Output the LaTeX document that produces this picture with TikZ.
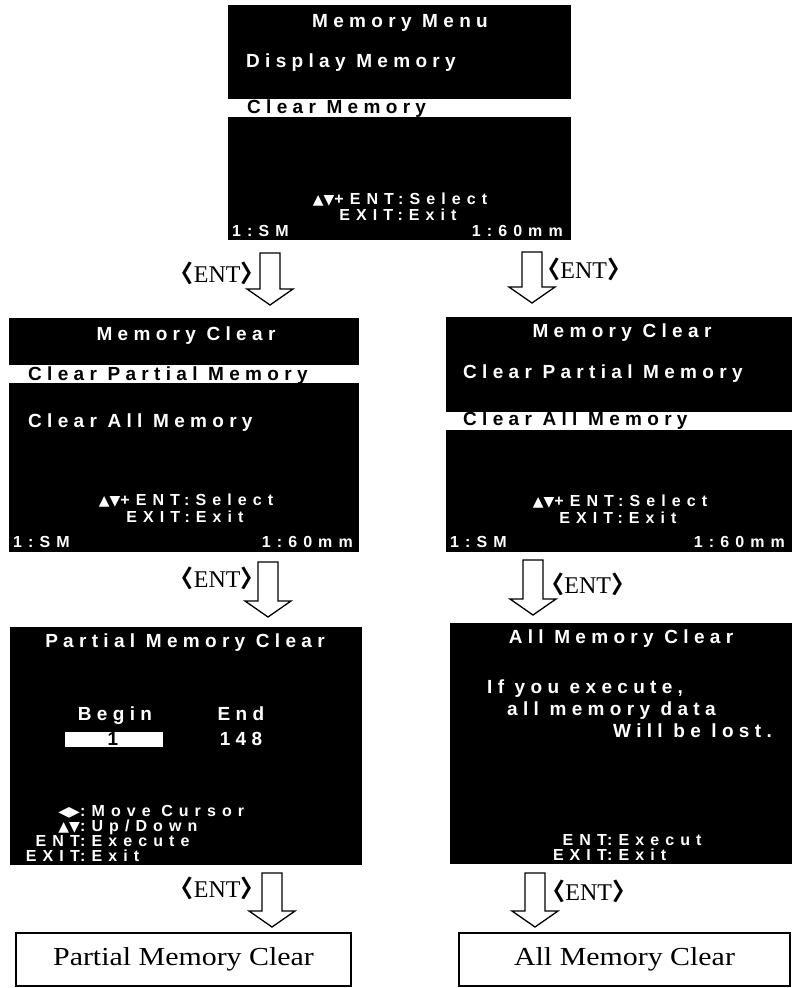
\documentclass[tikz,border=0pt]{standalone}
\usepackage{fontspec}
\setmainfont{Liberation Serif}
\newfontfamily\lcdfam{Liberation Sans}[LetterSpace=28]
\newfontfamily\lcdfamB{Liberation Sans}[LetterSpace=38]
\newfontfamily\symfam{DejaVu Sans}
\newfontfamily\cjkfam{Noto Sans CJK JP}
\newfontfamily\boxfam{Liberation Serif}[FakeStretch=1.15]
\usetikzlibrary{calc}
\newcommand\lcdf{\lcdfam\bfseries\fontsize{19}{19}\selectfont}
\newcommand\lcds{\lcdfamB\bfseries\fontsize{16}{16}\selectfont}
\newcommand\tri[1]{{\symfam\bfseries\fontsize{14}{14}\selectfont #1}}
\newcommand\entlabel{{\cjkfam\bfseries\kern-0.45em 〈}ENT{\cjkfam\bfseries 〉\kern-0.45em}}
\newcommand\hollowarrow[2]{\draw[hollow] let \p1=(#1),\p2=(#2) in
  (\x1-10pt,\y1) -- (\x1+10pt,\y1) -- (\x1+10pt,\y2+16pt) -- (\x1+23pt,\y2+16pt)
  -- (\x1,\y2) -- (\x1-23pt,\y2+16pt) -- (\x1-10pt,\y2+16pt) -- cycle;}
\begin{document}
\begin{tikzpicture}[x=1pt,y=-1pt,
  screen/.style={fill=black,inner sep=0pt,anchor=north west},
  hbar/.style={fill=white,inner sep=0pt,anchor=north west},
  lcd/.style={text=white,font=\lcdf,inner sep=0pt},
  lcdsm/.style={text=white,font=\lcds,inner sep=0pt},
  lcdinv/.style={text=black,font=\lcdf,inner sep=0pt},
  entl/.style={font=\fontsize{24}{24}\selectfont,inner sep=0pt},
  result/.style={draw=black,line width=1.3pt,fill=white,inner sep=0pt,
                 font=\boxfam\fontsize{26}{26}\selectfont},
  hollow/.style={draw=black,line width=1.3pt,fill=white,line join=miter}]
\fill[white] (0,0) rectangle (792,988);
\useasboundingbox (0,0) rectangle (792,988);

% ---------- screens ----------
\node[screen,minimum width=343pt,minimum height=235pt] (sTop) at (228,5) {};
\node[screen,minimum width=350pt,minimum height=234pt] (sML) at (9,318) {};
\node[screen,minimum width=346pt,minimum height=235pt] (sMR) at (446,317) {};
\node[screen,minimum width=352pt,minimum height=238pt] (sBL) at (10,627) {};
\node[screen,minimum width=342pt,minimum height=241pt] (sBR) at (450,623) {};

% highlight bars
\node[hbar,minimum width=343pt,minimum height=18pt] (barTop) at (228,99) {};
\node[hbar,minimum width=350pt,minimum height=18pt] (barML) at (9,365) {};
\node[hbar,minimum width=346pt,minimum height=18pt] (barMR) at (446,412) {};
\node[hbar,minimum width=98pt,minimum height=15pt] (begbox) at (65,732) {};

% ---------- top screen ----------
\node[lcd,anchor=base] (tTitle) at (400,27) {Memory Menu};
\node[lcd,anchor=base west] (tDisp) at (246,67) {Display Memory};
\node[lcdinv,anchor=base west] (tClr) at (247,113) {Clear Memory};
\node[lcdsm,anchor=base] (tSel) at (400,204) {\tri{▲▼}+ENT:Select};
\node[lcdsm,anchor=base] (tExit) at (398,220) {EXIT:Exit};
\node[lcdsm,anchor=base west] (tSM) at (232,236) {1:SM};
\node[lcdsm,anchor=base east] (tMM) at (563,236) {1:60mm};

% ---------- middle left ----------
\node[lcd,anchor=base] (mlTitle) at (186,340) {Memory Clear};
\node[lcdinv,anchor=base west] (mlP) at (28,380) {Clear Partial Memory};
\node[lcd,anchor=base west] (mlA) at (28,427) {Clear All Memory};
\node[lcdsm,anchor=base] (mlSel) at (186,505) {\tri{▲▼}+ENT:Select};
\node[lcdsm,anchor=base] (mlExit) at (185,522) {EXIT:Exit};
\node[lcdsm,anchor=base west] (mlSM) at (13,547) {1:SM};
\node[lcdsm,anchor=base east] (mlMM) at (353,547) {1:60mm};

% ---------- middle right ----------
\node[lcd,anchor=base] (mrTitle) at (622,337) {Memory Clear};
\node[lcd,anchor=base west] (mrP) at (463,378) {Clear Partial Memory};
\node[lcdinv,anchor=base west] (mrA) at (463,425) {Clear All Memory};
\node[lcdsm,anchor=base] (mrSel) at (620,506) {\tri{▲▼}+ENT:Select};
\node[lcdsm,anchor=base] (mrExit) at (618,523) {EXIT:Exit};
\node[lcdsm,anchor=base west] (mrSM) at (450,547) {1:SM};
\node[lcdsm,anchor=base east] (mrMM) at (785,547) {1:60mm};

% ---------- bottom left ----------
\node[lcd,anchor=base] (blTitle) at (185,647) {Partial Memory Clear};
\node[lcd,anchor=base] (blBegin) at (115,720) {Begin};
\node[lcd,anchor=base] (blEnd) at (241,720) {End};
\node[lcdinv,anchor=base] (blOne) at (113,745) {1};
\node[lcd,anchor=base] (bl148) at (241,745) {148};
\node[lcdsm,anchor=base east] (blK1) at (80,816) {\tri{◀▶}};
\node[lcdsm,anchor=base west] (blD1) at (80,816) {:Move Cursor};
\node[lcdsm,anchor=base east] (blK2) at (80,831) {\tri{▲▼}};
\node[lcdsm,anchor=base west] (blD2) at (80,831) {:Up/Down};
\node[lcdsm,anchor=base east] (blK3) at (80,846) {ENT};
\node[lcdsm,anchor=base west] (blD3) at (80,846) {:Execute};
\node[lcdsm,anchor=base east] (blK4) at (80,861) {EXIT};
\node[lcdsm,anchor=base west] (blD4) at (80,861) {:Exit};

% ---------- bottom right ----------
\node[lcd,anchor=base] (brTitle) at (621,643) {All Memory Clear};
\node[lcd,anchor=base west] (brL1) at (487,693) {If you execute,};
\node[lcd,anchor=base west] (brL2) at (507,715) {all memory data};
\node[lcd,anchor=base west] (brL3) at (613,737) {Will be lost.};
\node[lcdsm,anchor=base east] (brK1) at (607,845) {ENT};
\node[lcdsm,anchor=base west] (brD1) at (607,845) {:Execut};
\node[lcdsm,anchor=base east] (brK2) at (607,860) {EXIT};
\node[lcdsm,anchor=base west] (brD2) at (607,860) {:Exit};

% ---------- result boxes ----------
\node[result,minimum width=335pt,minimum height=53pt] (rL) at (183.5,959.5) {Partial Memory Clear};
\node[result,minimum width=331pt,minimum height=53pt] (rR) at (624.5,959.5) {All Memory Clear};

% ---------- ENT labels ----------
\node[entl,anchor=base east] (e1L) at (254,282) {\entlabel};
\node[entl,anchor=base west] (e1R) at (547,278) {\entlabel};
\node[entl,anchor=base east] (e2L) at (254,587) {\entlabel};
\node[entl,anchor=base west] (e2R) at (551,593) {\entlabel};
\node[entl,anchor=base east] (e3L) at (254,897) {\entlabel};
\node[entl,anchor=base west] (e3R) at (552,900) {\entlabel};

% ---------- hollow arrows ----------
\coordinate (a1Ls) at (270,253); \coordinate (a1Le) at (270,305);
\coordinate (a1Rs) at (532,252); \coordinate (a1Re) at (532,303);
\coordinate (a2Ls) at (268,562); \coordinate (a2Le) at (268,617);
\coordinate (a2Rs) at (533,560); \coordinate (a2Re) at (533,615);
\coordinate (a3Ls) at (272,873); \coordinate (a3Le) at (272,927);
\coordinate (a3Rs) at (535,873); \coordinate (a3Re) at (535,927);
\hollowarrow{a1Ls}{a1Le}
\hollowarrow{a1Rs}{a1Re}
\hollowarrow{a2Ls}{a2Le}
\hollowarrow{a2Rs}{a2Re}
\hollowarrow{a3Ls}{a3Le}
\hollowarrow{a3Rs}{a3Re}
\end{tikzpicture}
\end{document}
